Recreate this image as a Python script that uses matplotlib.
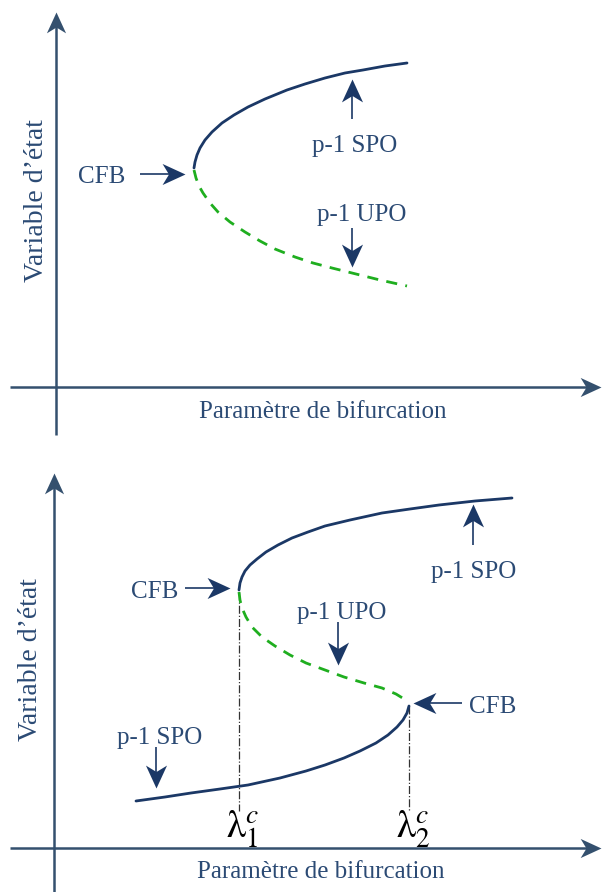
#!/usr/bin/env python3
"""
Schematic bifurcation diagrams: a single cyclic-fold (CFB) point and an
S-shaped hysteresis curve with two CFB points.
"""
import matplotlib
matplotlib.use("Agg")
import numpy as np
import matplotlib.pyplot as plt
from matplotlib.path import Path
from matplotlib.markers import MarkerStyle
from matplotlib.transforms import Affine2D

# ── DATA (panel-local units) ───────────────────────────────────────────
# top panel: stable branch (solid) and unstable branch (dashed)
top_spo_x = [138, 139, 141, 144, 149, 156, 166, 178, 192, 209, 231, 249, 269, 289, 307, 329, 351]
top_spo_y = [219, 225, 232, 239, 247, 255, 264, 272, 280, 288, 297, 303, 309, 314, 317, 321, 324]
top_upo_x = [138, 140, 143, 147, 154, 162, 174, 189, 204, 219, 239, 257, 276, 296, 324, 351]
top_upo_y = [217, 209, 201, 194, 184, 175, 165, 155, 146, 138, 130, 124, 119, 114, 107, 101]

# bottom panel: upper stable, middle unstable, lower stable
bot_spo_hi_x = [185, 186, 188, 191, 196, 203, 212, 224, 238, 254, 271, 296, 328, 356, 385, 421, 458]
bot_spo_hi_y = [258, 265, 271, 277, 283, 289, 296, 303, 310, 316, 322, 328, 335, 339, 343, 347, 350]
bot_upo_x = [185, 186, 188, 192, 198, 208, 221, 236, 252, 271, 290, 310, 328, 342, 355]
bot_upo_y = [256, 248, 240, 231, 221, 211, 202, 193, 185, 178, 171, 165, 160, 154, 146]
bot_spo_lo_x = [355, 353, 349, 343, 334, 322, 306, 290, 271, 252, 226, 194, 166, 137, 111, 82]
bot_spo_lo_y = [142, 135, 128, 121, 113, 105, 97, 90, 83, 77, 70, 63, 59, 55, 51, 47]

lambda_c = [185, 355]
lambda_labels = [r"$\mathrm{\lambda}_{1}^{c}$", r"$\mathrm{\lambda}_{2}^{c}$"]

X_LABEL = "Paramètre de bifurcation"
Y_LABEL = "Variable d’état"

# ── STYLE ──────────────────────────────────────────────────────────────
NAVY = "#1b3866"
AXIS = "#34506e"
TEXT = "#2b4a74"
GREEN = "#1fae1f"
FS = 18

plt.rcParams["font.family"] = ["Liberation Serif", "DejaVu Serif"]
plt.rcParams["mathtext.fontset"] = "stix"

W, H = 602, 892
fig = plt.figure(figsize=(W / 100, H / 100), dpi=100)

# notched arrow head, tip at origin, pointing along +x
HEAD = Path([(0, 0), (-1, 0.46), (-0.72, 0), (-1, -0.46), (0, 0)],
            [Path.MOVETO, Path.LINETO, Path.LINETO, Path.LINETO, Path.CLOSEPOLY])


def make_panel(top_px, bot_px, ox, oy):
    """Axes covering figure rows top_px..bot_px, local origin at pixel (ox, oy)."""
    ax = fig.add_axes([0, 1 - bot_px / H, 1, (bot_px - top_px) / H])
    ax.set_xlim(-ox, W - ox)
    ax.set_ylim(oy - bot_px, oy - top_px)
    ax.axis("off")
    return ax


def arrow(ax, tail, tip, color, lw, ms):
    dx, dy = tip[0] - tail[0], tip[1] - tail[1]
    ang = np.degrees(np.arctan2(dy, dx))
    ln = np.hypot(dx, dy)
    back = 0.3 * ms / 0.72  # pull shaft end inside the head
    end = (tip[0] - dx / ln * back, tip[1] - dy / ln * back)
    ax.plot([tail[0], end[0]], [tail[1], end[1]], color=color, lw=lw,
            solid_capstyle="butt")
    m = MarkerStyle(HEAD, transform=Affine2D().rotate_deg(ang))
    ax.plot([tip[0]], [tip[1]], marker=m, ms=ms, color=color, mew=0, ls="none")


def draw_axes(ax, x0, x1, y0, y1):
    arrow(ax, (x0, 0), (x1, 0), AXIS, 1.8, 30)
    arrow(ax, (0, y0), (0, y1), AXIS, 1.8, 30)


def pointer(ax, tail, tip):
    arrow(ax, tail, tip, NAVY, 1.2, 33)


def label(ax, x, y, s, size=FS, **kw):
    ax.text(x, y, s, color=TEXT, fontsize=size, ha="center", va="center", **kw)


# ── TOP PANEL ──────────────────────────────────────────────────────────
ax1 = make_panel(0, 440, 56, 387)
draw_axes(ax1, -46, 545, -48, 375)
ax1.plot(top_spo_x, top_spo_y, color=NAVY, lw=2.0, solid_capstyle="round")
ax1.plot(top_upo_x, top_upo_y, color=GREEN, lw=2.0, ls=(0, (4, 3)))

label(ax1, 46, 210, "CFB")
pointer(ax1, (84, 213), (129, 213))
label(ax1, 299, 241, "p-1 SPO")
pointer(ax1, (296, 268), (296, 308))
label(ax1, 306, 172, "p-1 UPO")
pointer(ax1, (296, 159), (296, 120))
label(ax1, 267, -25, X_LABEL)
label(ax1, -19, 186, Y_LABEL, size=20, rotation=90)

# ── BOTTOM PANEL ───────────────────────────────────────────────────────
ax2 = make_panel(452, 892, 54, 848)
draw_axes(ax2, -44, 547, -44, 375)
for xc, yc in zip(lambda_c, [bot_upo_y[0], bot_spo_lo_y[0]]):
    ax2.plot([xc, xc], [yc, 37], color="#333333", lw=0.9, ls="-.")
ax2.plot(bot_spo_hi_x, bot_spo_hi_y, color=NAVY, lw=2.0, solid_capstyle="round")
ax2.plot(bot_upo_x, bot_upo_y, color=GREEN, lw=2.0, ls=(0, (4, 3)))
ax2.plot(bot_spo_lo_x, bot_spo_lo_y, color=NAVY, lw=2.0, solid_capstyle="round")

for xc, s in zip(lambda_c, lambda_labels):
    ax2.text(xc + 4, 19, s, color="black", fontsize=28, ha="center", va="center")

label(ax2, 101, 256, "CFB")
pointer(ax2, (131, 260), (176, 260))
label(ax2, 439, 141, "CFB")
pointer(ax2, (408, 145), (359, 145))
label(ax2, 420, 276, "p-1 SPO")
pointer(ax2, (419, 303), (419, 344))
label(ax2, 288, 235, "p-1 UPO")
pointer(ax2, (284, 226), (284, 183))
label(ax2, 106, 110, "p-1 SPO")
pointer(ax2, (102, 101), (102, 60))
label(ax2, 267, -24, X_LABEL)
label(ax2, -23, 188, Y_LABEL, size=20, rotation=90)

fig.savefig("out.png", dpi=100, facecolor="white")
